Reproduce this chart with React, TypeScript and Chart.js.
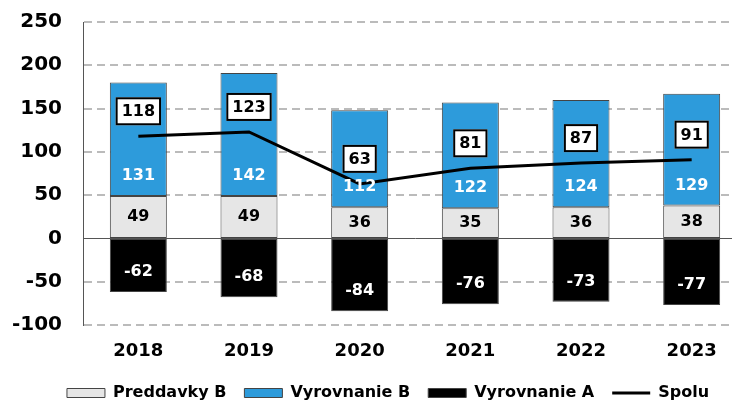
import React, { useEffect, useRef } from "react";
import { Chart, registerables } from "chart.js";

Chart.register(...registerables);

const categories = ["2018", "2019", "2020", "2021", "2022", "2023"];
const preddavkyB = [49, 49, 36, 35, 36, 38];
const vyrovnanieB = [131, 142, 112, 122, 124, 129];
const vyrovnanieA = [-62, -68, -84, -76, -73, -77];
const spolu = [118, 123, 63, 81, 87, 91];
const yMin = -100;
const yMax = 250;
const yStep = 50;

const FONT = "'DejaVu Sans', sans-serif";
const GRAY = "#E6E6E6";
const BLUE = "#2D9BDB";
const BLACK = "#000000";
const EDGE = "#444444";

const labelPlugin = {
  id: "valueLabels",
  afterDatasetsDraw(chart: any) {
    const ctx = chart.ctx;
    ctx.save();
    ctx.font = `bold 16px ${FONT}`;
    ctx.textAlign = "center";
    ctx.textBaseline = "middle";
    chart.data.datasets.forEach((ds: any, di: number) => {
      const meta = chart.getDatasetMeta(di);
      if (meta.hidden) return;
      meta.data.forEach((el: any, i: number) => {
        const text = String(ds.data[i]);
        if (ds.label === "Preddavky B") {
          ctx.fillStyle = "#000";
          ctx.fillText(text, el.x, (el.y + el.base) / 2);
        } else if (ds.label === "Vyrovnanie B") {
          ctx.fillStyle = "#fff";
          ctx.fillText(text, el.x, el.base - 20);
        } else if (ds.label === "Vyrovnanie A") {
          ctx.fillStyle = "#fff";
          ctx.fillText(text, el.x, el.y - 20);
        } else if (ds.label === "Spolu") {
          const tw = ctx.measureText(text).width;
          const w = tw + 12;
          const h = 28;
          const cx = el.x;
          const cy = el.y - 25;
          ctx.fillStyle = "#fff";
          ctx.fillRect(cx - w / 2, cy - h / 2, w, h);
          ctx.lineWidth = 2;
          ctx.strokeStyle = "#000";
          ctx.strokeRect(cx - w / 2 + 1, cy - h / 2 + 1, w - 2, h - 2);
          ctx.fillStyle = "#000";
          ctx.fillText(text, cx, cy + 1);
        }
      });
    });
    ctx.restore();
  },
};

export default function App() {
  const ref = useRef<HTMLCanvasElement>(null);

  useEffect(() => {
    if (!ref.current) return;
    const barCommon = {
      type: "bar" as const,
      borderColor: EDGE,
      borderWidth: 1,
      borderSkipped: false as const,
      barPercentage: 0.515,
      categoryPercentage: 1,
      pointStyle: "rect",
      order: 1,
      stack: "bars",
      yAxisID: "y",
    };
    const chart = new Chart(ref.current, {
      type: "bar",
      data: {
        labels: categories,
        datasets: [
          { ...barCommon, label: "Preddavky B", data: preddavkyB, backgroundColor: GRAY },
          { ...barCommon, label: "Vyrovnanie B", data: vyrovnanieB, backgroundColor: BLUE },
          { ...barCommon, label: "Vyrovnanie A", data: vyrovnanieA, backgroundColor: BLACK },
          {
            type: "line",
            label: "Spolu",
            data: spolu,
            yAxisID: "y",
            borderColor: "#000",
            backgroundColor: "#000",
            borderWidth: 3,
            pointRadius: 0,
            pointHoverRadius: 0,
            pointStyle: "line",
            pointBorderColor: "#000",
            pointBorderWidth: 3,
            tension: 0,
            fill: false,
            order: 0,
            stack: "line",
          } as any,
        ],
      },
      options: {
        animation: false,
        responsive: true,
        maintainAspectRatio: false,
        layout: { padding: { left: 0, right: 0, top: 22, bottom: 0 } },
        font: { family: FONT },
        plugins: {
          tooltip: { enabled: false },
          legend: {
            position: "bottom",
            labels: {
              usePointStyle: true,
              pointStyleWidth: 38,
              boxHeight: 9,
              padding: 18,
              color: "#000",
              font: { family: FONT, size: 16, weight: "bold" },
              sort: (a: any, b: any) => a.datasetIndex - b.datasetIndex,
            },
          },
        },
        scales: {
          x: {
            stacked: true,
            grid: { display: false, drawTicks: false },
            border: { display: false },
            ticks: {
              color: "#000",
              padding: 16,
              font: { family: FONT, size: 18, weight: "bold" },
            },
            afterFit: (s: any) => {
              s.height = 42;
            },
          },
          y: {
            stacked: true,
            position: "left",
            min: yMin,
            max: yMax,
            ticks: {
              stepSize: yStep,
              color: "#000",
              padding: 21,
              font: { family: FONT, size: 20, weight: "bold" },
            },
            grid: {
              drawTicks: false,
              color: (c: any) => (c.tick && c.tick.value === 0 ? "#555555" : "#bbbbbb"),
              lineWidth: (c: any) => (c.tick && c.tick.value === 0 ? 1 : 2),
            },
            border: {
              display: true,
              color: "#555555",
              width: 1,
              dash: (c: any) => (c.tick && c.tick.value !== 0 ? [8, 5] : []),
            },
            afterFit: (s: any) => {
              s.width = 83;
              s.paddingTop = 0;
              s.paddingBottom = 0;
            },
          },
          yRight: {
            position: "right",
            display: true,
            grid: { display: false, drawTicks: false },
            border: { display: false },
            ticks: { display: false },
            afterFit: (s: any) => {
              s.width = 29;
              s.paddingTop = 0;
              s.paddingBottom = 0;
            },
          },
        },
      } as any,
      plugins: [labelPlugin],
    });
    return () => chart.destroy();
  }, []);

  return (
    <div
      style={{
        position: "fixed",
        left: 0,
        top: 0,
        width: 732,
        height: 404,
        overflow: "hidden",
        background: "#fff",
      }}
    >
      <div style={{ position: "relative", width: 776, height: 411 }}>
        <canvas ref={ref} />
      </div>
    </div>
  );
}
